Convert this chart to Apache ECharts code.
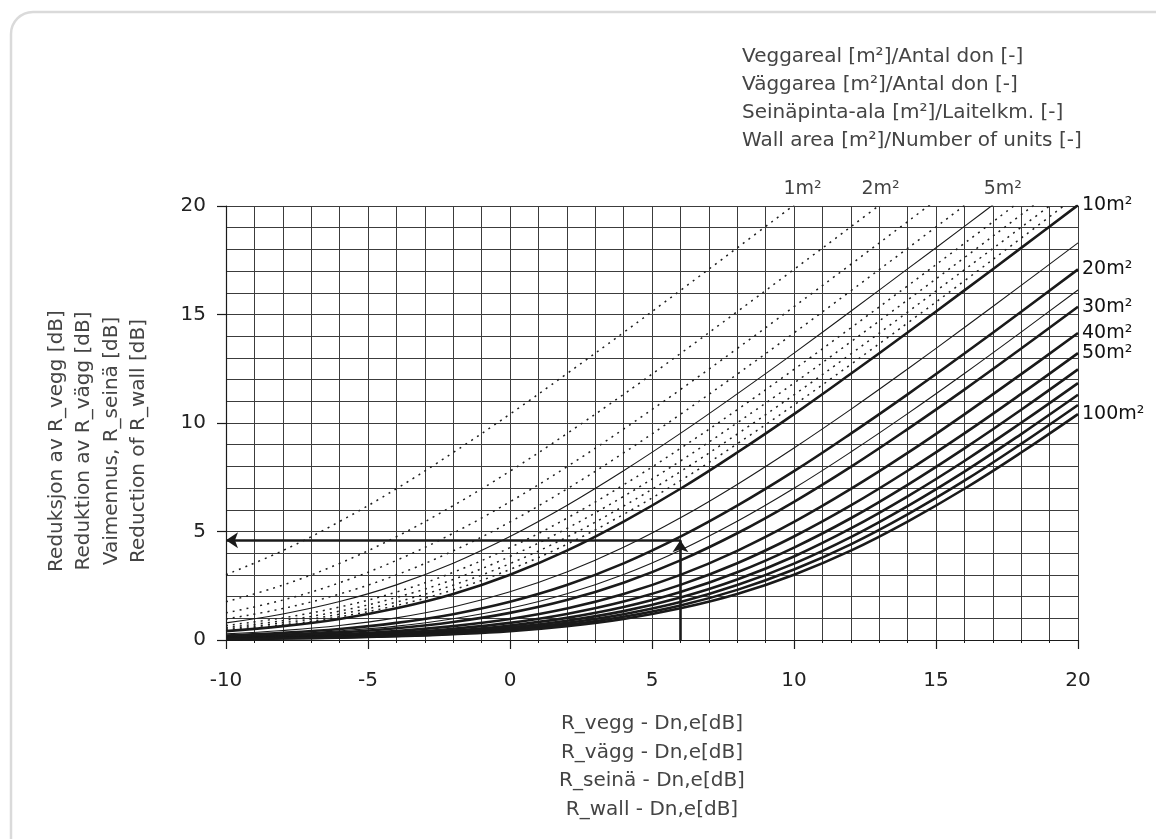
<!DOCTYPE html>
<html>
<head>
<meta charset="utf-8">
<script src="https://cdn.jsdelivr.net/npm/echarts@6/dist/echarts.min.js"></script>
<style>
html,body{margin:0;padding:0;background:#fff;}
#chart{width:1156px;height:839px;}
</style>
</head>
<body>
<div id="chart"></div>
<script>
// x positions (R - Dn,e [dB]) at which the curves were read
const xs = [-10,-8,-6,-4,-2,0,2,4,6,8,10,12,14,16,18,20];

// reduction [dB] read per wall area / unit curve (curves leaving the top are cut there)
const r1 = [3.01,4.12,5.46,6.97,8.64,10.41,12.27,14.17,16.11,18.07,20.04];
const r2 = [1.76,2.53,3.53,4.76,6.19,7.78,9.51,11.32,13.20,15.13,17.08,19.04,21.02];
const r3 = [1.25,1.84,2.64,3.67,4.92,6.37,7.98,9.72,11.54,13.43,15.36,17.31,19.28,21.26];
const r4 = [0.97,1.45,2.12,3.00,4.11,5.44,6.96,8.62,10.40,12.25,14.15,16.09,18.05,20.02];
const r5 = [0.79,1.20,1.77,2.54,3.54,4.77,6.20,7.80,9.52,11.34,13.22,15.15,17.10,19.06,21.04];
const r6 = [0.67,1.02,1.52,2.21,3.12,4.26,5.61,7.15,8.83,10.61,12.47,14.38,16.32,18.28,20.26];
const r7 = [0.58,0.89,1.33,1.96,2.79,3.85,5.14,6.62,8.25,10.01,11.84,13.74,15.67,17.62,19.60,21.58];
const r8 = [0.51,0.79,1.19,1.75,2.53,3.52,4.74,6.17,7.76,9.49,11.30,13.18,15.11,17.06,19.02,21.00];
const r9 = [0.46,0.70,1.07,1.59,2.31,3.25,4.41,5.79,7.34,9.04,10.83,12.70,14.61,16.55,18.52,20.50];
const r10 = [0.41,0.64,0.97,1.46,2.12,3.01,4.12,5.46,6.97,8.64,10.41,12.27,14.17,16.11,18.07,20.04];
const r15 = [0.28,0.44,0.67,1.02,1.52,2.22,3.13,4.27,5.63,7.17,8.85,10.63,12.49,14.40,16.34,18.30];
const r20 = [0.21,0.33,0.51,0.79,1.19,1.76,2.53,3.53,4.76,6.19,7.78,9.51,11.32,13.20,15.13,17.08];
const r25 = [0.17,0.27,0.42,0.64,0.98,1.46,2.13,3.02,4.14,5.47,6.99,8.66,10.43,12.28,14.19,16.13];
const r30 = [0.14,0.22,0.35,0.54,0.83,1.25,1.84,2.64,3.67,4.92,6.37,7.98,9.72,11.54,13.43,15.36];
const r40 = [0.11,0.17,0.26,0.41,0.64,0.97,1.45,2.12,3.00,4.11,5.44,6.96,8.62,10.40,12.25,14.15];
const r50 = [0.09,0.14,0.21,0.33,0.52,0.79,1.20,1.77,2.54,3.54,4.77,6.20,7.80,9.52,11.34,13.22];
const r60 = [0.07,0.11,0.18,0.28,0.43,0.67,1.02,1.52,2.21,3.12,4.26,5.61,7.15,8.83,10.61,12.47];
const r70 = [0.06,0.10,0.15,0.24,0.37,0.58,0.89,1.33,1.96,2.79,3.85,5.14,6.62,8.25,10.01,11.84];
const r80 = [0.05,0.09,0.13,0.21,0.33,0.51,0.79,1.19,1.75,2.53,3.52,4.74,6.17,7.76,9.49,11.30];
const r90 = [0.05,0.08,0.12,0.19,0.29,0.46,0.70,1.07,1.59,2.31,3.25,4.41,5.79,7.34,9.04,10.83];
const r100 = [0.04,0.07,0.11,0.17,0.27,0.41,0.64,0.97,1.46,2.12,3.01,4.12,5.46,6.97,8.64,10.41];

// curve names, line kinds and right-hand labels
const curveNames = ['1m²','2m²','3m²','4m²','5m²','6m²','7m²','8m²','9m²','10m²','15m²','20m²','25m²','30m²','40m²','50m²','60m²','70m²','80m²','90m²','100m²'];
const curveValues = [r1,r2,r3,r4,r5,r6,r7,r8,r9,r10,r15,r20,r25,r30,r40,r50,r60,r70,r80,r90,r100];
const curveKinds = ['dot','dot','dot','dot','thin','dot','dot','dot','dot','thick','thin','thick','thin','thick','thick','thick','thick','thick','thick','thick','thick'];
const endLabelled = ['10m²','20m²','30m²','40m²','50m²','100m²'];

// labels written above the top edge
const topTagX = [10.3, 13.05, 17.35];
const topTagText = ['1m²','2m²','5m²'];

// example reading arrows
const arrowX = 6;
const arrowY = 4.6;

// axis texts
const xTicks = [-10,-5,0,5,10,15,20];
const yTicks = [0,5,10,15,20];
const xNameLines = ['R_vegg - Dn,e[dB]','R_vägg - Dn,e[dB]','R_seinä - Dn,e[dB]','R_wall - Dn,e[dB]'];
const yNameLines = ['Reduksjon av R_vegg [dB]','Reduktion av R_vägg [dB]','Vaimennus, R_seinä [dB]','Reduction of R_wall [dB]'];
const legendLines = ['Veggareal [m²]/Antal don [-]','Väggarea [m²]/Antal don [-]','Seinäpinta-ala [m²]/Laitelkm. [-]','Wall area [m²]/Number of units [-]'];

const FONT = '"DejaVu Sans", "Noto Sans", sans-serif';
const chart = echarts.init(document.getElementById('chart'), null, {renderer:'canvas'});

const lineStyles = {
  dot:   {color:'#1e1e1e', width:1.5, type:[2,5]},
  thin:  {color:'#1a1a1a', width:1.1, type:'solid'},
  thick: {color:'#1a1a1a', width:2.6, type:'solid'}
};

const series = curveNames.map((name, i) => {
  const vals = curveValues[i];
  const s = {
    name: name,
    type: 'line',
    data: vals.map((v, j) => [xs[j], v]),
    smooth: 0.4,
    showSymbol: false,
    symbol: 'none',
    clip: true,
    lineStyle: lineStyles[curveKinds[i]],
    z: curveKinds[i] === 'thick' ? 4 : 3,
    silent: true
  };
  if (endLabelled.indexOf(name) >= 0) {
    s.endLabel = {show:true, formatter: name, color:'#111', fontSize:19, fontFamily:FONT, distance:4};
  }
  return s;
});

series.push({
  type: 'scatter',
  data: topTagX.map((x, i) => [x, 20, topTagText[i]]),
  symbolSize: 0,
  clip: false,
  silent: true,
  label: {show:true, position:'top', distance:7, formatter: p => p.value[2], color:'#111', fontSize:19, fontFamily:FONT}
});

series.push({
  type: 'lines',
  coordinateSystem: 'cartesian2d',
  symbol: ['none','arrow'],
  symbolSize: [9, 12],
  silent: true,
  z: 6,
  lineStyle: {color:'#1a1a1a', width:2.6, opacity:1, curveness:0},
  data: [
    {coords: [[arrowX, 0], [arrowX, arrowY]]},
    {coords: [[arrowX, arrowY], [xTicks[0], arrowY]]}
  ]
});

const gridLine = {show:true, lineStyle:{color:'#3c3c3c', width:1}};

chart.setOption({
  animation: false,
  backgroundColor: '#fff',
  title: {
    text: legendLines.join('\n'),
    left: 737, top: 38,
    textStyle: {color:'#444', fontSize:20, fontWeight:'normal', fontFamily:FONT, lineHeight:28}
  },
  graphic: [{
    type: 'rect', silent: true, z: -10,
    shape: {x: 11, y: 12, width: 1170, height: 860, r: 22},
    style: {fill: 'none', stroke: '#dadada', lineWidth: 2.5}
  }],
  grid: {left: 226, right: 78, top: 206, bottom: 199, containLabel: false},
  xAxis: {
    type: 'value', min: xTicks[0], max: xTicks[xTicks.length-1], interval: 5,
    name: xNameLines.join('\n'), nameLocation: 'middle', nameGap: 70,
    nameTextStyle: {color:'#444', fontSize:20, fontFamily:FONT, lineHeight:28.5},
    axisLine: {show:true, onZero:false, lineStyle:{color:'#1a1a1a', width:1.2}},
    axisTick: {show:true, length:9, lineStyle:{color:'#1a1a1a', width:1.2}},
    minorTick: {show:true, splitNumber:5, length:3, lineStyle:{color:'#1a1a1a', width:1}},
    splitLine: gridLine,
    minorSplitLine: gridLine,
    axisLabel: {color:'#222', fontSize:20, fontFamily:FONT, margin:31}
  },
  yAxis: {
    type: 'value', min: yTicks[0], max: yTicks[yTicks.length-1], interval: 5,
    name: yNameLines.join('\n'), nameLocation: 'middle', nameGap: 73, nameRotate: 90,
    nameTextStyle: {color:'#444', fontSize:20, fontFamily:FONT, lineHeight:27.5, padding:[0,36,0,0]},
    axisLine: {show:true, onZero:false, lineStyle:{color:'#1a1a1a', width:1.2}},
    axisTick: {show:true, length:9, lineStyle:{color:'#1a1a1a', width:1.2}},
    minorTick: {show:false, splitNumber:5},
    splitLine: gridLine,
    minorSplitLine: gridLine,
    axisLabel: {color:'#222', fontSize:20, fontFamily:FONT, margin:20}
  },
  series: series
});
</script>
</body>
</html>
